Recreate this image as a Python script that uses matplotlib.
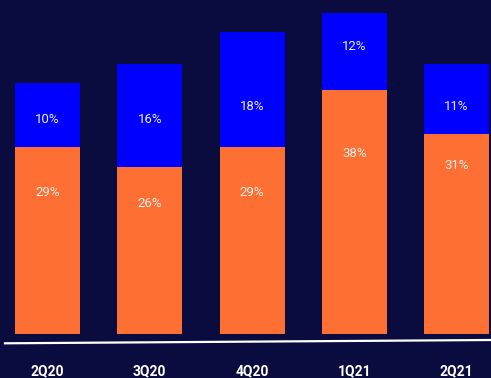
import matplotlib.pyplot as plt
from matplotlib.lines import Line2D

quarters = ['2Q20', '3Q20', '4Q20', '1Q21', '2Q21']
orange_vals = [29, 26, 29, 38, 31]
blue_vals = [10, 16, 18, 12, 11]

# label heights (in % units) as placed in the original
orange_label_y = [22.0, 20.2, 22.0, 28.1, 26.1]
blue_label_y = [33.4, 33.4, 35.3, 44.7, 35.3]

bg = '#0a0c3f'
orange = '#fe6f33'
blue = '#0000fe'

plt.rcParams['font.family'] = ['Roboto', 'DejaVu Sans']

fig = plt.figure(figsize=(4.91, 3.78), dpi=100, facecolor=bg)
ax = fig.add_axes([0, 44.5 / 378, 1, 333.5 / 378])
ax.set_facecolor(bg)

x = list(range(len(quarters)))
ax.bar(x, orange_vals, width=0.636, color=orange)
ax.bar(x, blue_vals, width=0.636, bottom=orange_vals, color=blue)

for i in x:
    ax.text(i, orange_label_y[i], f'{orange_vals[i]}%', ha='center', va='center',
            color='#f4eeee', fontsize=9.5)
    ax.text(i, blue_label_y[i], f'{blue_vals[i]}%', ha='center', va='center',
            color='#eeeef8', fontsize=9.5)

ax.set_xlim(-0.4645, 4.337)
ax.set_ylim(0, 51.95)
ax.set_xticks(x)
ax.set_xticklabels(quarters, color='white', fontsize=10, fontweight='bold')
ax.tick_params(axis='x', length=0, pad=22)
ax.set_yticks([])
for s in ax.spines.values():
    s.set_visible(False)

# baseline
fig.add_artist(Line2D([5 / 491, 1], [1 - 343.3 / 378, 1 - 340 / 378],
                      color='white', lw=1.6))

plt.savefig('out.png', dpi=100, facecolor=bg)
